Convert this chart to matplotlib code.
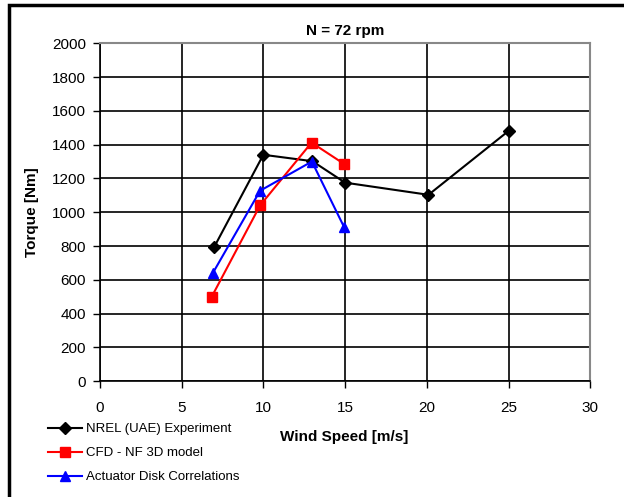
import matplotlib
matplotlib.use("Agg")
import matplotlib.pyplot as plt
from matplotlib.patches import Rectangle

plt.rcParams["font.family"] = ["Liberation Sans", "DejaVu Sans"]

nrel_x = [7, 10, 13, 15, 20.1, 25]
nrel_y = [795, 1340, 1302, 1175, 1103, 1481]
cfd_x = [6.85, 9.8, 12.95, 14.95]
cfd_y = [501, 1040, 1412, 1285]
act_x = [6.9, 9.8, 12.97, 14.95]
act_y = [638, 1127, 1300, 910]

fig = plt.figure(figsize=(6.24, 4.97), dpi=100)
ax = fig.add_axes([0.160, 0.233, 0.786, 0.680])

ax.plot(nrel_x, nrel_y, color="black", marker="D", markersize=6, lw=1.5,
        label="NREL (UAE) Experiment")
ax.plot(cfd_x, cfd_y, color="#ff0000", marker="s", markersize=6.5, lw=1.5,
        label="CFD - NF 3D model")
ax.plot(act_x, act_y, color="#0000ff", marker="^", markersize=7.5, lw=1.5,
        label="Actuator Disk Correlations")

ax.set_xlim(0, 30)
ax.set_ylim(0, 2000)
ax.set_xticks(range(0, 31, 5))
ax.set_yticks(range(0, 2001, 200))
ax.grid(True, color="black", lw=1.2)
ax.set_axisbelow(True)
ax.tick_params(labelsize=11, length=5, width=1, direction="out")
ax.tick_params(axis="x", pad=9)
ax.tick_params(axis="y", pad=5)
for s in ["top", "right"]:
    ax.spines[s].set_color("#888888")
    ax.spines[s].set_linewidth(1.5)
for s in ["left", "bottom"]:
    ax.spines[s].set_linewidth(1.2)

ax.set_title("N = 72 rpm", fontsize=11, fontweight="bold", pad=6)
ax.set_ylabel("Torque [Nm]", fontsize=11, fontweight="bold", labelpad=9)
fig.text(344 / 624, 1 - 437 / 497, "Wind Speed [m/s]", fontsize=11,
         fontweight="bold", ha="center", va="center")

fig.legend(loc="upper left", bbox_to_anchor=(48 / 624, 1 - 423 / 497),
           frameon=False, fontsize=9.5, handlelength=2.6, handletextpad=0.3,
           labelspacing=0.9, borderaxespad=0, borderpad=0)

fig.patches.append(Rectangle((9 / 624, -0.1), 1.2, 1 - 5 / 497 + 0.1,
                             transform=fig.transFigure, fill=False,
                             edgecolor="black", lw=2.5))

fig.savefig("out.png", dpi=100)
